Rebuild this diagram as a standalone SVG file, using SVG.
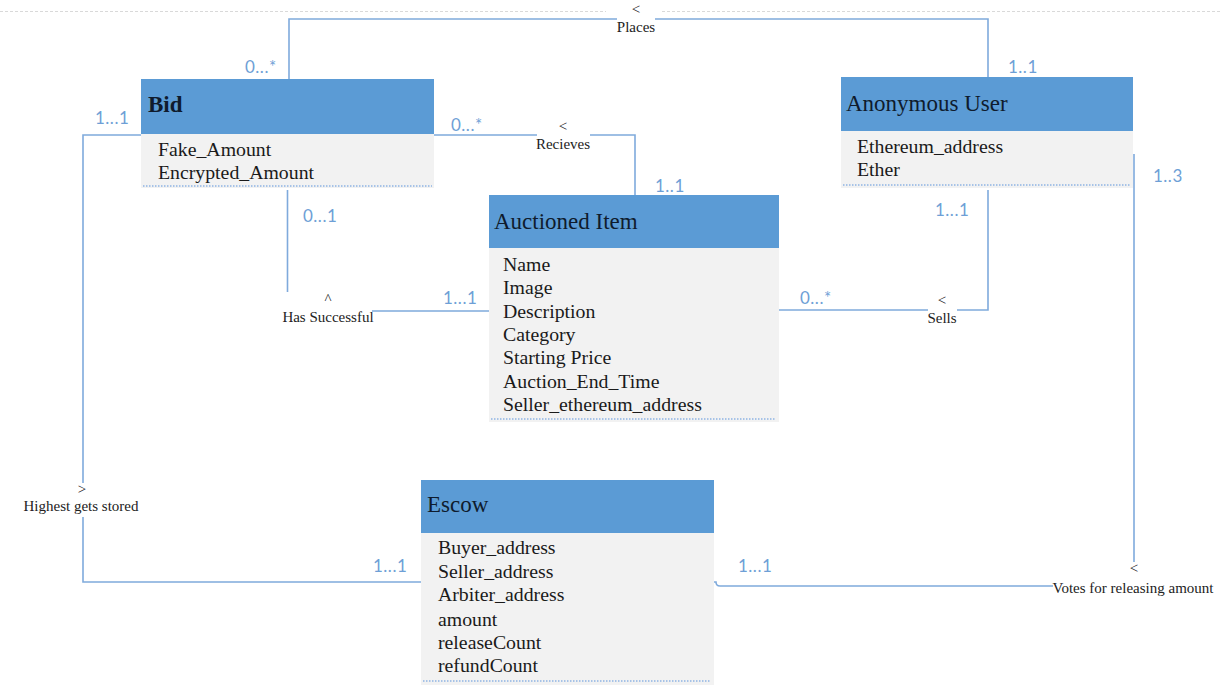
<svg xmlns="http://www.w3.org/2000/svg" width="1222" height="687" viewBox="0 0 1222 687">
  <style>
    .hdr { fill: #5B9BD5; }
    .body { fill: #F2F2F2; }
    .sep { stroke: #8FB4E3; stroke-width: 1.5; stroke-dasharray: 1.5 1.5; fill: none; }
    .title { font-family: "Liberation Serif", "Times New Roman", serif; font-size: 23px; fill: #0F1B2D; }
    .attr { font-family: "Liberation Serif", "Times New Roman", serif; font-size: 19.8px; fill: #1A1A1A; }
    .conn { stroke: #7FAADC; stroke-width: 1.6; fill: none; }
    .lbl { font-family: "Liberation Serif", "Times New Roman", serif; font-size: 15px; fill: #222; text-anchor: middle; }
    .mult { font-family: Lato, "Liberation Sans", sans-serif; font-size: 17px; letter-spacing: 0.5px; fill: #6E9FD6; }
  </style>

  <!-- faint page rule along the top -->
  <path d="M0 11.5 H606 M662 11.5 H1222" stroke="#D9D9D9" stroke-width="1" stroke-dasharray="3 2" fill="none"/>

  <!-- associations -->
  <g id="connectors">
    <!-- Places -->
    <path class="conn" d="M289 79 V19 H617 M655 19 H988 V77"/>
    <text class="lbl" x="636" y="14">&lt;</text>
    <text class="lbl" x="636" y="32">Places</text>
    <text class="mult" x="245" y="73">0...*</text>
    <text class="mult" x="1008" y="73">1..1</text>

    <!-- Recieves -->
    <path class="conn" d="M434 135 H537 M590 135 H635 V195"/>
    <text class="lbl" x="563" y="131">&lt;</text>
    <text class="lbl" x="563" y="149">Recieves</text>
    <text class="mult" x="451" y="131">0...*</text>
    <text class="mult" x="655" y="192">1..1</text>

    <!-- Has Successful -->
    <path class="conn" d="M287.5 190 V292 M372 311 H489"/>
    <text class="lbl" x="328" y="304">^</text>
    <text class="lbl" x="328" y="322">Has Successful</text>
    <text class="mult" x="303" y="222">0...1</text>
    <text class="mult" x="443" y="304">1...1</text>

    <!-- Sells -->
    <path class="conn" d="M779 310 H928 M957 310 H988 V190"/>
    <text class="lbl" x="942" y="305">&lt;</text>
    <text class="lbl" x="942" y="323">Sells</text>
    <text class="mult" x="800" y="304">0...*</text>
    <text class="mult" x="935" y="216">1...1</text>

    <!-- Highest gets stored -->
    <path class="conn" d="M141 135 H83 V483 M83 517 V582 H421"/>
    <text class="lbl" x="82" y="494">&gt;</text>
    <text class="lbl" x="81" y="511">Highest gets stored</text>
    <text class="mult" x="95" y="124">1...1</text>
    <text class="mult" x="373" y="572">1...1</text>

    <!-- Votes for releasing amount -->
    <path class="conn" d="M1134 154 V562 M1053 586 H720 Q716 586 716 582 H714"/>
    <text class="lbl" x="1134" y="573">&lt;</text>
    <text class="lbl" x="1133" y="593">Votes for releasing amount</text>
    <text class="mult" x="1153" y="182">1..3</text>
    <text class="mult" x="738" y="572">1...1</text>
  </g>

  <!-- Bid -->
  <g id="bid">
    <rect class="body" x="141" y="134" width="293" height="54"/>
    <rect class="hdr" x="141" y="79" width="293" height="55"/>
    <line class="sep" x1="143" y1="186" x2="432" y2="186"/>
    <text class="title" x="148" y="112" font-weight="bold" font-size="22px">Bid</text>
    <text class="attr" x="158" y="156">Fake_Amount</text>
    <text class="attr" x="158" y="179">Encrypted_Amount</text>
  </g>

  <!-- Anonymous User -->
  <g id="anonymous-user">
    <rect class="body" x="841" y="131" width="292" height="57"/>
    <rect class="hdr" x="841" y="77" width="292" height="54"/>
    <line class="sep" x1="843" y1="185" x2="1130" y2="185"/>
    <text class="title" x="846" y="111">Anonymous User</text>
    <text class="attr" x="857" y="153">Ethereum_address</text>
    <text class="attr" x="857" y="176">Ether</text>
  </g>

  <!-- Auctioned Item -->
  <g id="auctioned-item">
    <rect class="body" x="489" y="248" width="290" height="174"/>
    <rect class="hdr" x="489" y="195" width="290" height="53"/>
    <line class="sep" x1="491" y1="419" x2="776" y2="419"/>
    <text class="title" x="494" y="229">Auctioned Item</text>
    <text class="attr" x="503" y="271">Name</text>
    <text class="attr" x="503" y="294">Image</text>
    <text class="attr" x="503" y="318">Description</text>
    <text class="attr" x="503" y="341">Category</text>
    <text class="attr" x="503" y="364">Starting Price</text>
    <text class="attr" x="503" y="388">Auction_End_Time</text>
    <text class="attr" x="503" y="411">Seller_ethereum_address</text>
  </g>

  <!-- Escow -->
  <g id="escow">
    <rect class="body" x="421" y="533" width="293" height="152"/>
    <rect class="hdr" x="421" y="480" width="293" height="53"/>
    <line class="sep" x1="423" y1="681" x2="711" y2="681"/>
    <text class="title" x="427" y="512">Escow</text>
    <text class="attr" x="438" y="554">Buyer_address</text>
    <text class="attr" x="438" y="578">Seller_address</text>
    <text class="attr" x="438" y="601">Arbiter_address</text>
    <text class="attr" x="438" y="626">amount</text>
    <text class="attr" x="438" y="649">releaseCount</text>
    <text class="attr" x="438" y="672">refundCount</text>
  </g>
</svg>
